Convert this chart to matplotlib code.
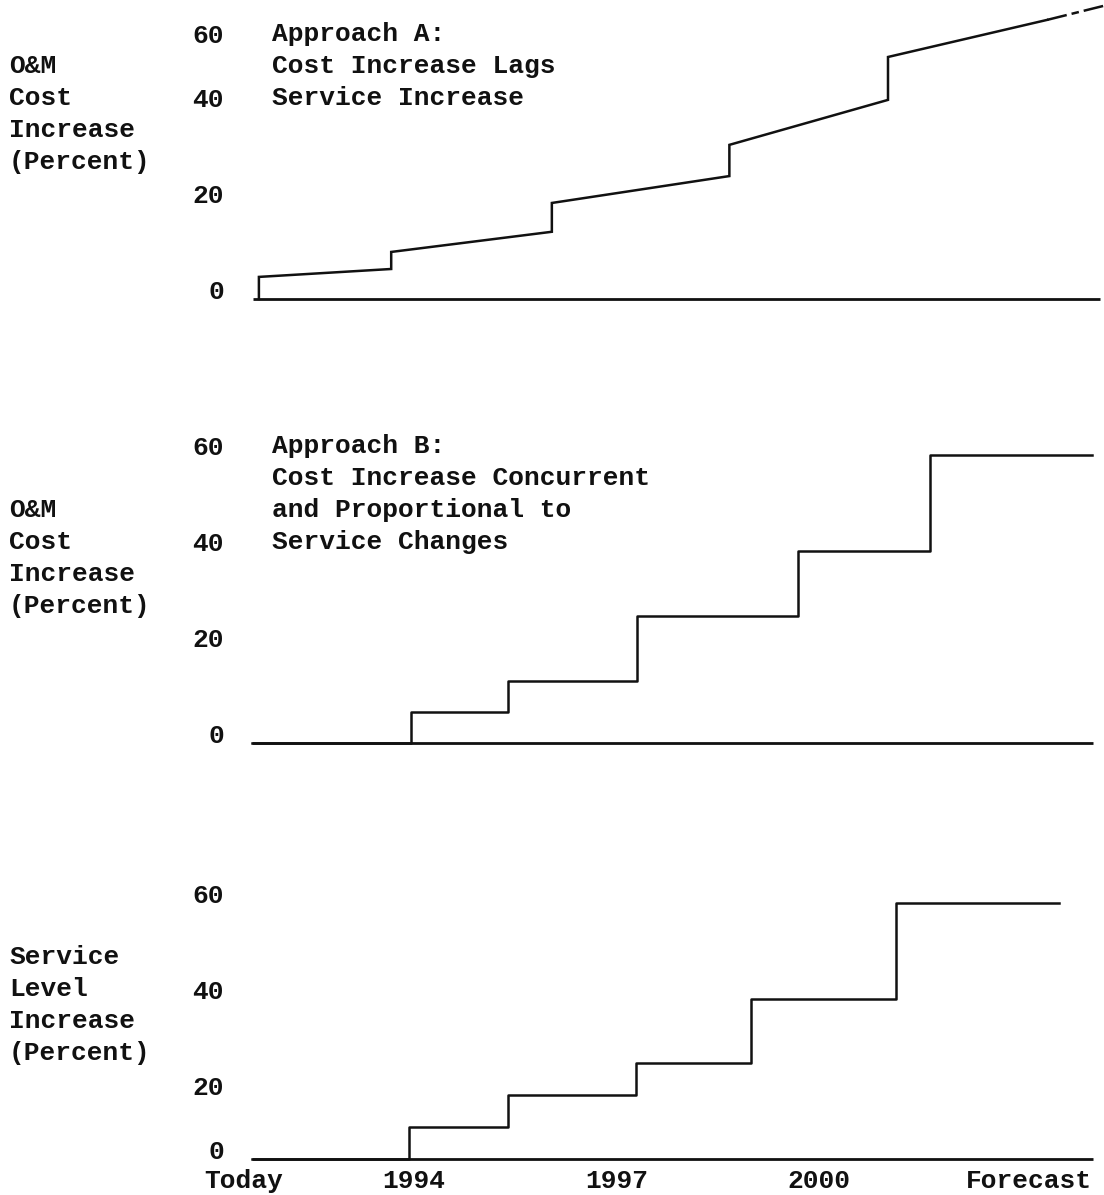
import numpy as np
import matplotlib
matplotlib.use('Agg')
import matplotlib.pyplot as plt

W, H, DPI = 1104, 1195, 100
FONT = 'Liberation Mono'
FS = 18.9
WEIGHT = 'bold'
plt.rcParams['font.family'] = [FONT, 'DejaVu Sans Mono']
plt.rcParams['font.size'] = FS
plt.rcParams['font.weight'] = WEIGHT

# ---------------- data ----------------
x_ticks = [1991.47, 1994, 1997, 2000, 2003.11]
x_labels = ['Today', '1994', '1997', '2000', 'Forecast']
y_ticks = [0, 20, 40, 60]
y_tick_labels = ['0', '20', '40', '60']

# Approach A: cost rises in jumps, then keeps creeping up (sloped segments)
a_seg_start_x = [1991.70, 1993.66, 1996.04, 1998.67, 2001.02]
a_seg_end_x = [1993.66, 1996.04, 1998.67, 2001.02, 2003.38]
a_seg_start_y = [4.6, 9.8, 20.0, 32.1, 55.6]
a_seg_end_y = [6.25, 14.0, 25.6, 42.2, 67.2]
a_tail_x = [2003.38, 2004.22]
a_tail_y = [67.2, 71.6]

# Approach B: cost steps concurrent with service changes
b_x = [1991.60, 1993.96, 1995.39, 1997.30, 1999.69, 2001.64, 2004.04]
b_y = [0, 6.5, 13, 26.5, 40, 60, 60]

# Service level increase
s_x = [1991.60, 1993.93, 1995.39, 1997.29, 1998.99, 2001.14, 2003.56]
s_y = [0, 10, 20, 26.7, 40, 60, 60]

title_a = ['Approach A:', 'Cost Increase Lags', 'Service Increase']
title_b = ['Approach B:', 'Cost Increase Concurrent', 'and Proportional to', 'Service Changes']
ylab_cost = ['O&M', 'Cost', 'Increase', '(Percent)']
ylab_serv = ['Service', 'Level', 'Increase', '(Percent)']

# ---------------- figure ----------------
fig = plt.figure(figsize=(W / DPI, H / DPI), dpi=DPI)
fig.patch.set_facecolor('white')

LEFT_PX = 240
XLIM = (1991.42, 2004.22)
INK = '#111111'


def add_ax(top_px, bottom_px):
    return fig.add_axes([LEFT_PX / W, 1 - bottom_px / H, (W - LEFT_PX) / W,
                         (bottom_px - top_px) / H])


def ftext(x_px, y_px, s):
    fig.text(x_px / W, 1 - y_px / H, s, ha='left', va='baseline', color=INK,
             fontsize=FS, fontweight=WEIGHT, family=[FONT, 'DejaVu Sans Mono'])


# piecewise axis scales (the hand-drawn axes are compressed in places)
def f_top(v):
    v = np.asarray(v, dtype=float)
    return np.where(v <= 40, v, 40 + (v - 40) / 1.5)


def g_top(u):
    u = np.asarray(u, dtype=float)
    return np.where(u <= 40, u, 40 + (u - 40) * 1.5)


def f_bot(v):
    v = np.asarray(v, dtype=float)
    return np.where(v <= 20, v / 1.5, 20 / 1.5 + (v - 20))


def g_bot(u):
    u = np.asarray(u, dtype=float)
    return np.where(u <= 20 / 1.5, u * 1.5, 20 + (u - 20 / 1.5))


def style(ax, spine_bounds, show_x):
    for s in ['top', 'right', 'left']:
        ax.spines[s].set_visible(False)
    ax.spines['bottom'].set_linewidth(2.0)
    ax.spines['bottom'].set_color(INK)
    ax.spines['bottom'].set_bounds(*spine_bounds)
    ax.spines['bottom'].set_capstyle('butt')
    ax.set_xlim(*XLIM)
    ax.set_xticks(x_ticks)
    ax.set_xticklabels(x_labels)
    ax.set_yticks(y_ticks)
    ax.set_yticklabels(y_tick_labels)
    ax.tick_params(axis='y', length=0, pad=11.5, labelcolor=INK)
    ax.tick_params(axis='x', length=0, pad=7.5, labelbottom=show_x, labelcolor=INK)
    for lab in ax.get_yticklabels():
        lab.set_verticalalignment('baseline')
    ax.patch.set_visible(False)


LW = 1.8

# ---- Panel 1: Approach A ----
ax1 = add_ax(0, 299)
ax1.set_yscale('function', functions=(f_top, g_top))
ax1.set_ylim(0, 73.4)
style(ax1, (1991.61, 2004.16), False)
xs = [a_seg_start_x[0]]
ys = [0]
for x0, x1, y0, y1 in zip(a_seg_start_x, a_seg_end_x, a_seg_start_y, a_seg_end_y):
    xs += [x0, x1]
    ys += [y0, y1]
ax1.plot(xs, ys, color=INK, lw=LW, clip_on=False, solid_joinstyle='miter')
ax1.plot(a_tail_x, a_tail_y, color=INK, lw=LW, clip_on=False,
         dashes=(8, 2, 3, 2))

# ---- Panel 2: Approach B ----
ax2 = add_ax(425, 743)
ax2.set_ylim(0, 66.25)
style(ax2, (1991.60, 2004.06), False)
ax2.step(b_x, b_y, where='post', color=INK, lw=LW, clip_on=False)

# ---- Panel 3: Service level ----
ax3 = add_ax(870, 1159)
ax3.set_yscale('function', functions=(f_bot, g_bot))
ax3.set_ylim(0, 66.9)
style(ax3, (1991.60, 2004.06), True)
ax3.step(s_x, s_y, where='post', color=INK, lw=LW, clip_on=False)

# ---- texts ----
for i, line in enumerate(title_a):
    ftext(272, 41 + 32 * i, line)
for i, line in enumerate(title_b):
    ftext(272, 453 + 32 * i, line)
for i, line in enumerate(ylab_cost):
    ftext(9, 73 + 32 * i, line)
for i, line in enumerate(ylab_cost):
    ftext(9, 517 + 32 * i, line)
for i, line in enumerate(ylab_serv):
    ftext(9, 964 + 32 * i, line)

fig.savefig('out.png', dpi=DPI, facecolor='white')
